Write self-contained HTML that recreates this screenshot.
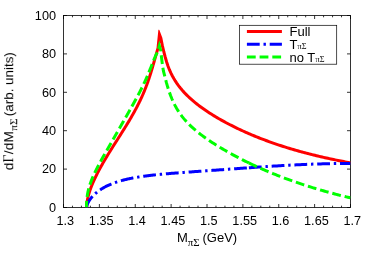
<!DOCTYPE html>
<html><head><meta charset="utf-8"><style>
html,body{margin:0;padding:0;background:#fff;}
svg{display:block}
.tx{filter:grayscale(1)}
text{font-family:"Liberation Sans",sans-serif;font-size:13px;fill:#000}
.tk text{font-size:12.7px}
.sy{font-family:"Liberation Serif",serif}
</style></head><body>
<svg width="374" height="262" viewBox="0 0 374 262">
<rect width="374" height="262" fill="#fff"/>
<path d="M63.50 207.5 v-3.5 M63.50 15.5 v3.5 M72.47 207.5 v-1.8 M72.47 15.5 v1.8 M81.44 207.5 v-1.8 M81.44 15.5 v1.8 M90.41 207.5 v-1.8 M90.41 15.5 v1.8 M99.38 207.5 v-3.5 M99.38 15.5 v3.5 M108.34 207.5 v-1.8 M108.34 15.5 v1.8 M117.31 207.5 v-1.8 M117.31 15.5 v1.8 M126.28 207.5 v-1.8 M126.28 15.5 v1.8 M135.25 207.5 v-3.5 M135.25 15.5 v3.5 M144.22 207.5 v-1.8 M144.22 15.5 v1.8 M153.19 207.5 v-1.8 M153.19 15.5 v1.8 M162.16 207.5 v-1.8 M162.16 15.5 v1.8 M171.12 207.5 v-3.5 M171.12 15.5 v3.5 M180.09 207.5 v-1.8 M180.09 15.5 v1.8 M189.06 207.5 v-1.8 M189.06 15.5 v1.8 M198.03 207.5 v-1.8 M198.03 15.5 v1.8 M207.00 207.5 v-3.5 M207.00 15.5 v3.5 M215.97 207.5 v-1.8 M215.97 15.5 v1.8 M224.94 207.5 v-1.8 M224.94 15.5 v1.8 M233.91 207.5 v-1.8 M233.91 15.5 v1.8 M242.88 207.5 v-3.5 M242.88 15.5 v3.5 M251.84 207.5 v-1.8 M251.84 15.5 v1.8 M260.81 207.5 v-1.8 M260.81 15.5 v1.8 M269.78 207.5 v-1.8 M269.78 15.5 v1.8 M278.75 207.5 v-3.5 M278.75 15.5 v3.5 M287.72 207.5 v-1.8 M287.72 15.5 v1.8 M296.69 207.5 v-1.8 M296.69 15.5 v1.8 M305.66 207.5 v-1.8 M305.66 15.5 v1.8 M314.62 207.5 v-3.5 M314.62 15.5 v3.5 M323.59 207.5 v-1.8 M323.59 15.5 v1.8 M332.56 207.5 v-1.8 M332.56 15.5 v1.8 M341.53 207.5 v-1.8 M341.53 15.5 v1.8 M350.50 207.5 v-3.5 M350.50 15.5 v3.5 M63.5 207.50 h3.5 M350.5 207.50 h-3.5 M63.5 169.10 h3.5 M350.5 169.10 h-3.5 M63.5 130.70 h3.5 M350.5 130.70 h-3.5 M63.5 92.30 h3.5 M350.5 92.30 h-3.5 M63.5 53.90 h3.5 M350.5 53.90 h-3.5 M63.5 15.50 h3.5 M350.5 15.50 h-3.5" stroke="#000" stroke-width="0.8" fill="none"/>
<rect x="63.5" y="15.5" width="287.0" height="192.0" fill="none" stroke="#000" stroke-width="0.8"/>
<g class="tx tk">
<text x="65.3" y="225" text-anchor="middle">1.3</text>
<text x="101.2" y="225" text-anchor="middle">1.35</text>
<text x="137.1" y="225" text-anchor="middle">1.4</text>
<text x="172.9" y="225" text-anchor="middle">1.45</text>
<text x="208.8" y="225" text-anchor="middle">1.5</text>
<text x="244.7" y="225" text-anchor="middle">1.55</text>
<text x="280.6" y="225" text-anchor="middle">1.6</text>
<text x="316.4" y="225" text-anchor="middle">1.65</text>
<text x="352.3" y="225" text-anchor="middle">1.7</text>
<text x="56" y="211.8" text-anchor="end">0</text>
<text x="56" y="173.4" text-anchor="end">20</text>
<text x="56" y="135.0" text-anchor="end">40</text>
<text x="56" y="96.6" text-anchor="end">60</text>
<text x="56" y="58.2" text-anchor="end">80</text>
<text x="56" y="19.8" text-anchor="end">100</text>
</g>
<clipPath id="cr"><rect x="63.5" y="29.7" width="287.0" height="177.8"/></clipPath>
<clipPath id="c"><rect x="63.5" y="15.5" width="287.0" height="192.0"/></clipPath>
<g clip-path="url(#c)" fill="none" stroke-width="3" stroke-linejoin="miter" stroke-miterlimit="10">
<path d="M86.70 207.30 L86.73 206.15 L86.79 205.01 L86.88 203.86 L87.00 202.72 L87.16 201.57 L87.34 200.42 L87.55 199.28 L87.79 198.13 L88.05 196.99 L88.33 195.84 L88.64 194.69 L88.97 193.55 L89.32 192.40 L89.68 191.26 L90.07 190.11 L90.47 188.96 L90.89 187.82 L91.32 186.67 L91.78 185.53 L92.24 184.38 L92.72 183.23 L93.21 182.09 L93.72 180.94 L94.24 179.79 L94.77 178.65 L95.31 177.50 L95.86 176.36 L96.43 175.21 L97.00 174.06 L97.58 172.92 L98.18 171.77 L98.78 170.63 L99.39 169.48 L100.01 168.33 L100.64 167.19 L101.27 166.04 L101.92 164.90 L102.57 163.75 L103.23 162.60 L103.89 161.46 L104.56 160.31 L105.24 159.17 L105.92 158.02 L106.61 156.87 L107.30 155.73 L108.00 154.58 L108.70 153.44 L109.41 152.29 L110.12 151.14 L110.83 150.00 L111.55 148.85 L112.26 147.71 L112.99 146.56 L113.71 145.41 L114.44 144.27 L115.16 143.12 L115.89 141.98 L116.62 140.83 L117.35 139.68 L118.08 138.54 L118.81 137.39 L119.54 136.25 L120.27 135.10 L121.00 133.95 L121.72 132.81 L122.44 131.66 L123.16 130.52 L123.88 129.37 L124.60 128.22 L125.31 127.08 L126.02 125.93 L126.72 124.78 L127.42 123.64 L128.11 122.49 L128.80 121.35 L129.49 120.20 L130.17 119.05 L130.84 117.91 L131.50 116.76 L132.16 115.62 L132.81 114.47 L133.46 113.32 L134.10 112.18 L134.73 111.03 L135.35 109.89 L135.97 108.74 L136.57 107.59 L137.17 106.45 L137.76 105.30 L138.34 104.16 L138.91 103.01 L139.47 101.86 L140.03 100.72 L140.57 99.57 L141.11 98.43 L141.63 97.28 L142.15 96.13 L142.66 94.99 L143.16 93.84 L143.65 92.70 L144.13 91.55 L144.60 90.40 L145.06 89.26 L145.52 88.11 L145.96 86.97 L146.40 85.82 L146.83 84.67 L147.25 83.53 L147.66 82.38 L148.06 81.24 L148.46 80.09 L148.85 78.94 L149.24 77.80 L149.61 76.65 L149.98 75.51 L150.35 74.36 L150.71 73.21 L151.06 72.07 L151.41 70.92 L151.76 69.77 L152.10 68.63 L152.44 67.48 L152.77 66.34 L153.10 65.19 L153.43 64.04 L153.76 62.90 L154.09 61.75 L154.41 60.61 L154.74 59.46 L155.06 58.31 L155.39 57.17 L155.71 56.02 L156.04 54.88 L156.37 53.73 L156.70 52.58 L157.03 51.44 L157.36 50.29 L157.70 49.15 L158.04 48.00 L159.43 34.40 L160.87 38.24 L162.31 45.40 L163.75 51.50 L165.19 57.00 L166.63 62.00 L168.07 66.34 L169.51 69.98 L170.95 73.15 L172.39 75.98 L173.83 78.56 L175.27 80.93 L176.71 83.13 L178.15 85.14 L179.59 87.04 L181.03 88.82 L182.47 90.51 L183.91 92.12 L185.35 93.66 L186.79 95.12 L188.23 96.53 L189.67 97.88 L191.11 99.19 L192.55 100.45 L193.99 101.67 L195.43 102.85 L196.87 104.00 L198.31 105.12 L199.75 106.20 L201.19 107.27 L202.63 108.30 L204.07 109.32 L205.51 110.31 L206.95 111.28 L208.39 112.23 L209.83 113.17 L211.27 114.08 L212.71 114.98 L214.15 115.87 L215.59 116.74 L217.03 117.59 L218.47 118.43 L219.91 119.26 L221.35 120.08 L222.79 120.88 L224.23 121.67 L225.67 122.45 L227.11 123.22 L228.55 123.98 L229.99 124.73 L231.43 125.46 L232.87 126.19 L234.31 126.91 L235.75 127.61 L237.19 128.31 L238.63 129.00 L240.07 129.68 L241.51 130.35 L242.95 131.01 L244.39 131.66 L245.83 132.30 L247.27 132.94 L248.71 133.57 L250.15 134.19 L251.59 134.80 L253.03 135.40 L254.47 136.00 L255.91 136.59 L257.35 137.17 L258.79 137.74 L260.23 138.31 L261.67 138.87 L263.11 139.42 L264.55 139.96 L265.99 140.50 L267.43 141.03 L268.87 141.56 L270.31 142.08 L271.75 142.59 L273.19 143.09 L274.63 143.59 L276.07 144.09 L277.51 144.57 L278.95 145.05 L280.39 145.53 L281.83 146.00 L283.27 146.46 L284.71 146.92 L286.15 147.37 L287.59 147.82 L289.03 148.26 L290.47 148.69 L291.91 149.12 L293.35 149.55 L294.79 149.97 L296.23 150.38 L297.67 150.79 L299.11 151.20 L300.55 151.60 L301.99 151.99 L303.43 152.38 L304.87 152.76 L306.31 153.14 L307.75 153.52 L309.19 153.89 L310.63 154.26 L312.07 154.62 L313.51 154.98 L314.95 155.33 L316.39 155.68 L317.83 156.03 L319.27 156.37 L320.71 156.70 L322.15 157.04 L323.59 157.36 L325.03 157.69 L326.47 158.01 L327.91 158.33 L329.35 158.64 L330.79 158.95 L332.23 159.26 L333.67 159.56 L335.11 159.86 L336.55 160.15 L337.99 160.44 L339.43 160.73 L340.87 161.01 L342.31 161.30 L343.75 161.57 L345.19 161.85 L346.63 162.12 L348.07 162.39 L349.51 162.65 L350.50 162.83" stroke="#ff0000" clip-path="url(#cr)"/>
<path d="M86.70 207.50 L86.70 207.29 L86.72 207.07 L86.74 206.85 L86.76 206.62 L86.80 206.38 L86.84 206.14 L86.89 205.89 L86.95 205.64 L87.02 205.38 L87.09 205.12 L87.18 204.86 L87.27 204.59 L87.36 204.31 L87.47 204.03 L87.58 203.75 L87.71 203.46 L87.84 203.17 L87.97 202.88 L88.12 202.58 L88.27 202.28 L88.43 201.97 L88.60 201.67 L88.78 201.36 L88.97 201.04 L89.16 200.73 L89.36 200.41 L89.57 200.10 L89.78 199.77 L90.01 199.45 L90.24 199.13 L90.48 198.80 L90.73 198.48 L90.98 198.15 L91.25 197.82 L91.52 197.49 L91.80 197.16 L92.08 196.83 L92.38 196.50 L92.68 196.17 L92.99 195.84 L93.31 195.51 L93.64 195.18 L93.97 194.84 L94.31 194.51 L94.66 194.18 L95.02 193.86 L95.39 193.53 L95.76 193.20 L96.14 192.87 L96.53 192.55 L96.93 192.23 L97.33 191.90 L97.75 191.58 L98.17 191.26 L98.60 190.95 L99.03 190.63 L99.48 190.32 L99.93 190.00 L100.39 189.69 L100.86 189.39 L101.33 189.08 L101.82 188.78 L102.31 188.48 L102.81 188.18 L103.32 187.88 L103.83 187.59 L104.35 187.30 L104.88 187.01 L105.42 186.72 L105.97 186.44 L106.52 186.16 L107.09 185.89 L107.66 185.61 L108.23 185.34 L108.82 185.07 L109.41 184.81 L110.02 184.55 L110.63 184.29 L111.24 184.03 L111.87 183.78 L112.50 183.53 L113.14 183.29 L113.79 183.05 L114.45 182.81 L115.11 182.57 L115.79 182.34 L116.47 182.11 L117.15 181.88 L117.85 181.66 L118.55 181.44 L119.27 181.23 L119.99 181.01 L120.71 180.80 L121.45 180.60 L122.19 180.40 L122.94 180.20 L123.70 180.00 L124.47 179.81 L125.24 179.62 L126.03 179.43 L126.82 179.25 L127.61 179.07 L128.42 178.89 L129.23 178.71 L130.06 178.54 L130.89 178.37 L131.72 178.21 L132.57 178.04 L133.42 177.88 L134.28 177.73 L135.15 177.57 L136.03 177.42 L136.91 177.27 L137.81 177.13 L138.71 176.98 L139.62 176.84 L140.53 176.70 L141.46 176.56 L142.39 176.43 L143.33 176.30 L144.28 176.17 L145.23 176.04 L146.20 175.91 L147.17 175.79 L148.15 175.67 L149.13 175.55 L150.13 175.43 L151.13 175.32 L152.14 175.20 L153.16 175.09 L154.19 174.98 L155.22 174.87 L156.26 174.76 L157.31 174.65 L158.37 174.55 L159.44 174.44 L160.51 174.34 L161.59 174.24 L162.68 174.14 L163.78 174.04 L164.88 173.94 L166.00 173.84 L167.12 173.74 L168.25 173.65 L169.38 173.55 L170.53 173.46 L171.68 173.36 L172.84 173.27 L174.01 173.18 L175.18 173.08 L176.37 172.99 L177.56 172.90 L178.76 172.81 L179.96 172.72 L181.18 172.62 L182.40 172.53 L183.63 172.44 L184.87 172.35 L186.12 172.26 L187.37 172.17 L188.64 172.08 L189.91 171.98 L191.18 171.89 L192.47 171.80 L193.76 171.71 L195.07 171.61 L196.38 171.52 L197.69 171.43 L199.02 171.33 L200.35 171.24 L201.69 171.14 L203.04 171.04 L204.40 170.95 L205.76 170.85 L207.13 170.75 L208.51 170.66 L209.90 170.56 L211.30 170.46 L212.70 170.36 L214.11 170.26 L215.53 170.16 L216.96 170.05 L218.40 169.95 L219.84 169.85 L221.29 169.74 L222.75 169.64 L224.22 169.53 L225.69 169.43 L227.17 169.32 L228.67 169.21 L230.16 169.10 L231.67 169.00 L233.18 168.89 L234.71 168.78 L236.24 168.67 L237.77 168.56 L239.32 168.45 L240.87 168.34 L242.43 168.22 L244.00 168.11 L245.58 168.00 L247.16 167.89 L248.76 167.77 L248.90 167.76" stroke="#0000ff" stroke-dasharray="12.8 3.8 2.4 3.8" stroke-dashoffset="0"/>
<path d="M248.90 167.76 L250.36 167.66 L251.97 167.55 L253.58 167.44 L255.21 167.32 L256.84 167.21 L258.48 167.10 L260.13 166.98 L261.78 166.87 L263.44 166.76 L265.12 166.65 L266.80 166.54 L268.48 166.43 L270.18 166.32 L271.88 166.21 L273.59 166.10 L275.31 165.99 L277.04 165.89 L278.77 165.78 L280.51 165.68 L282.26 165.58 L284.02 165.47 L285.79 165.37 L287.56 165.28 L289.34 165.18 L291.13 165.08 L292.93 164.99 L294.73 164.90 L296.55 164.81 L298.37 164.72 L300.19 164.64 L302.03 164.55 L303.88 164.47 L305.73 164.40 L307.59 164.32 L309.46 164.25 L311.33 164.18 L313.22 164.11 L315.11 164.05 L317.01 163.99 L318.91 163.93 L320.83 163.88 L322.75 163.83 L324.68 163.78 L326.62 163.74 L328.57 163.70 L330.52 163.66 L332.48 163.63 L334.46 163.60 L336.43 163.58 L338.42 163.56 L340.41 163.55 L342.41 163.54 L344.42 163.53 L346.44 163.53 L348.47 163.53 L350.50 163.54" stroke="#0000ff" stroke-dasharray="12.8 3.8 2.4 3.8"/>
<path d="M86.50 207.30 L86.51 206.18 L86.52 205.06 L86.55 203.94 L86.59 202.82 L86.65 201.70 L86.72 200.57 L86.82 199.45 L86.93 198.33 L87.06 197.21 L87.21 196.09 L87.38 194.97 L87.57 193.85 L87.78 192.73 L88.01 191.61 L88.26 190.49 L88.54 189.37 L88.83 188.25 L89.15 187.12 L89.48 186.00 L89.84 184.88 L90.21 183.76 L90.60 182.64 L91.01 181.52 L91.44 180.40 L91.88 179.28 L92.34 178.16 L92.81 177.04 L93.30 175.92 L93.80 174.79 L94.32 173.67 L94.85 172.55 L95.38 171.43 L95.93 170.31 L96.49 169.19 L97.06 168.07 L97.64 166.95 L98.23 165.83 L98.82 164.71 L99.42 163.59 L100.03 162.47 L100.64 161.34 L101.25 160.22 L101.88 159.10 L102.50 157.98 L103.13 156.86 L103.76 155.74 L104.40 154.62 L105.03 153.50 L105.67 152.38 L106.31 151.26 L106.96 150.14 L107.60 149.02 L108.24 147.89 L108.89 146.77 L109.53 145.65 L110.18 144.53 L110.82 143.41 L111.47 142.29 L112.11 141.17 L112.76 140.05 L113.40 138.93 L114.05 137.81 L114.69 136.69 L115.33 135.56 L115.98 134.44 L116.62 133.32 L117.26 132.20 L117.90 131.08 L118.54 129.96 L119.18 128.84 L119.82 127.72 L120.46 126.60 L121.10 125.48 L121.74 124.36 L122.38 123.24 L123.02 122.11 L123.66 120.99 L124.30 119.87 L124.93 118.75 L125.57 117.63 L126.21 116.51 L126.84 115.39 L127.48 114.27 L128.11 113.15 L128.75 112.03 L129.38 110.91 L130.01 109.78 L130.64 108.66 L131.27 107.54 L131.90 106.42 L132.53 105.30 L133.15 104.18 L133.77 103.06 L134.39 101.94 L135.01 100.82 L135.62 99.70 L136.24 98.58 L136.84 97.46 L137.45 96.33 L138.04 95.21 L138.64 94.09 L139.23 92.97 L139.81 91.85 L140.39 90.73 L140.96 89.61 L141.53 88.49 L142.09 87.37 L142.64 86.25 L143.19 85.13 L143.73 84.01 L144.26 82.88 L144.78 81.76 L145.30 80.64 L145.81 79.52 L146.31 78.40 L146.80 77.28 L147.29 76.16 L147.77 75.04 L148.24 73.92 L148.70 72.80 L149.16 71.68 L149.61 70.55 L150.06 69.43 L150.50 68.31 L150.95 67.19 L151.39 66.07 L151.82 64.95 L152.26 63.83 L152.71 62.71 L153.15 61.59 L153.61 60.47 L154.07 59.35 L154.55 58.23 L155.04 57.10 L155.54 55.98 L156.07 54.86 L156.62 53.74 L157.20 52.62 L157.82 51.50 L159.35 45.90 L160.80 50.90 L161.50 57.40 L162.00 61.50 L162.60 66.00 L163.40 71.00 L164.90 76.80 L166.34 82.39 L167.78 87.34 L169.22 91.74 L170.66 95.69 L172.10 99.25 L173.54 102.47 L174.98 105.41 L176.42 108.02 L177.86 110.42 L179.30 112.64 L180.74 114.69 L182.18 116.61 L183.62 118.42 L185.06 120.11 L186.50 121.72 L187.94 123.24 L189.38 124.70 L190.82 126.09 L192.26 127.43 L193.70 128.72 L195.14 129.96 L196.58 131.16 L198.02 132.33 L199.46 133.47 L200.90 134.58 L202.34 135.66 L203.78 136.72 L205.22 137.75 L206.66 138.77 L208.10 139.76 L209.54 140.74 L210.98 141.70 L212.42 142.64 L213.86 143.57 L215.30 144.49 L216.74 145.39 L218.18 146.28 L219.62 147.16 L221.06 148.03 L222.50 148.88 L223.94 149.73 L225.38 150.56 L226.82 151.39 L228.26 152.20 L229.70 153.01 L231.14 153.80 L232.58 154.59 L234.02 155.37 L235.46 156.14 L236.90 156.90 L238.34 157.65 L239.78 158.40 L241.22 159.14 L242.66 159.87 L244.10 160.59 L245.54 161.30 L246.98 162.01 L248.42 162.71 L248.90 162.94" stroke="#00ff00" stroke-dasharray="8.8 3.9" stroke-dashoffset="2.4"/>
<path d="M248.90 162.94 L249.86 163.40 L251.30 164.08 L252.74 164.76 L254.18 165.43 L255.62 166.10 L257.06 166.75 L258.50 167.40 L259.94 168.05 L261.38 168.68 L262.82 169.31 L264.26 169.94 L265.70 170.56 L267.14 171.17 L268.58 171.77 L270.02 172.37 L271.46 172.97 L272.90 173.55 L274.34 174.14 L275.78 174.71 L277.22 175.28 L278.66 175.84 L280.10 176.40 L281.54 176.96 L282.98 177.50 L284.42 178.05 L285.86 178.58 L287.30 179.11 L288.74 179.64 L290.18 180.16 L291.62 180.67 L293.06 181.18 L294.50 181.69 L295.94 182.19 L297.38 182.68 L298.82 183.17 L300.26 183.66 L301.70 184.14 L303.14 184.61 L304.58 185.09 L306.02 185.55 L307.46 186.01 L308.90 186.47 L310.34 186.92 L311.78 187.37 L313.22 187.81 L314.66 188.25 L316.10 188.69 L317.54 189.12 L318.98 189.54 L320.42 189.96 L321.86 190.38 L323.30 190.79 L324.74 191.20 L326.18 191.61 L327.62 192.01 L329.06 192.41 L330.50 192.80 L331.94 193.19 L333.38 193.57 L334.82 193.95 L336.26 194.33 L337.70 194.71 L339.14 195.08 L340.58 195.44 L342.02 195.81 L343.46 196.16 L344.90 196.52 L346.34 196.87 L347.78 197.22 L349.22 197.57 L350.50 197.87" stroke="#00ff00" stroke-dasharray="8.8 3.9"/>
</g>
<rect x="239.5" y="25.3" width="97.2" height="38.9" fill="#fff" stroke="#000" stroke-width="0.7"/>
<g fill="none" stroke-width="3">
<path d="M246.9 31.4H281.9" stroke="#ff0000"/>
<path d="M246.9 44.3H281.9" stroke="#0000ff" stroke-dasharray="12.8 3.8 2.4 3.8"/>
<path d="M246.9 57.1H281.9" stroke="#00ff00" stroke-dasharray="8.8 3.9"/>
</g>
<g class="tx">
<text x="289.5" y="36">Full</text>
<text x="289.5" y="49">T</text>
<text x="297.6" y="49" class="sy" style="font-size:7.8px" textLength="9" lengthAdjust="spacingAndGlyphs">πΣ</text>
<text x="289.5" y="62">no T</text>
<text x="315.6" y="62" class="sy" style="font-size:7.8px" textLength="9" lengthAdjust="spacingAndGlyphs">πΣ</text>
<text x="176.9" y="242.2">M</text>
<text x="187.8" y="246.2" class="sy" style="font-size:10px" textLength="11.9" lengthAdjust="spacingAndGlyphs">πΣ</text>
<text x="202.5" y="242.2">(GeV)</text>
<g transform="translate(13.2,0) rotate(-90)">
<text x="-170.3" y="0" style="font-size:13.6px" textLength="39.2">d<tspan class="sy">Γ</tspan>/dM</text>
<text x="-130.7" y="4" class="sy" style="font-size:10.4px" textLength="12.3" lengthAdjust="spacingAndGlyphs">πΣ</text>
<text x="-52.2" y="0" text-anchor="end" style="font-size:13.4px">(arb. units)</text>
</g>
</g>
</svg>
</body></html>
